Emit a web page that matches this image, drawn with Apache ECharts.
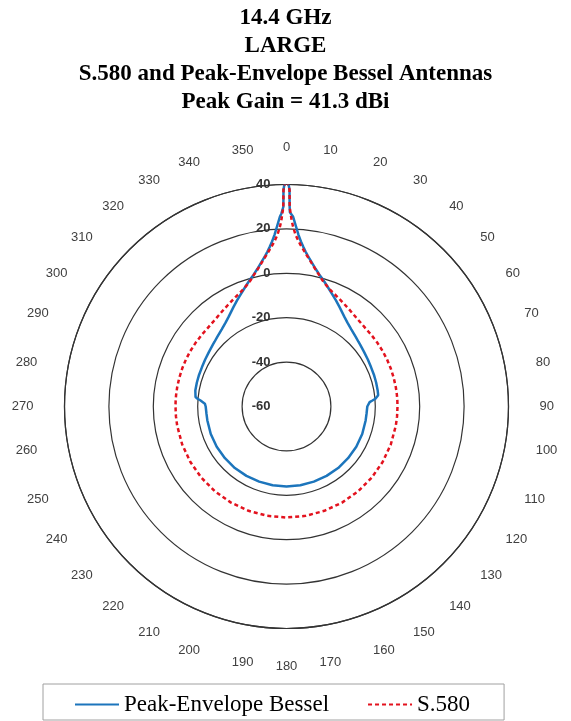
<!DOCTYPE html>
<html>
<head>
<meta charset="utf-8">
<script src="https://cdn.jsdelivr.net/npm/echarts@6/dist/echarts.min.js"></script>
<style>html,body{margin:0;padding:0;background:#fff}#c{width:571px;height:721px}</style>
</head>
<body>
<div id="c"></div>
<script>
// Off-axis angle (deg), 0..180; pattern is symmetric about 0
const angles = [0, 0.3, 0.6, 0.8, 0.9, 1, 1.5, 2, 3, 4, 5, 6, 7, 8, 10, 12, 14, 16, 18, 20, 22, 25, 28, 30, 33, 36, 40, 45, 48, 50, 55, 60, 65, 70, 75, 80, 83, 84, 85, 86, 87, 88, 90, 95, 100, 110, 120, 130, 140, 150, 160, 170, 180];
// Gain (dBi)
const besselGain = [41.3, 40.8, 39.5, 37.5, 30, 27.5, 27, 25.5, 21.3, 17.5, 14.6, 12.3, 10.3, 8.6, 5.8, 3.3, 1.2, -0.5, -2.2, -3.8, -5.3, -7.3, -9.2, -10.4, -12, -13.3, -14.6, -15.8, -16.4, -16.7, -17.3, -17.7, -18, -18.1, -18.2, -18.3, -18.4, -18.8, -19.8, -21.2, -22.5, -23.2, -23.6, -23.8, -23.8, -23.7, -23.7, -23.8, -23.8, -23.9, -24, -24, -24];
const s580Gain = [41.3, 40.8, 39.5, 37.5, 31, 29, 24.6, 21.5, 17.5, 15, 13, 11.3, 9.6, 8.2, 5.5, 3, 1, -1, -2.4, -3.6, -4.5, -5.6, -6.6, -7.2, -8, -8.7, -9.4, -9.9, -10, -10, -10, -10, -10, -10, -10, -10, -10, -10, -10, -10, -10, -10, -10, -10, -10, -10, -10, -10, -10, -10, -10, -10, -10];
const titleLines = ['14.4 GHz', 'LARGE', 'S.580 and Peak-Envelope Bessel Antennas', 'Peak Gain = 41.3 dBi'];
const seriesNames = ['Peak-Envelope Bessel', 'S.580'];
const radiusTicks = { min: -60, max: 40, step: 20 };

function fullCircle(vals) {
  const out = [];
  for (let i = 0; i < angles.length; i++) out.push([vals[i], angles[i]]);
  for (let i = angles.length - 2; i >= 0; i--) out.push([vals[i], 360 - angles[i]]);
  return out;
}

const chart = echarts.init(document.getElementById('c'), null, { renderer: 'canvas' });
chart.setOption({
  backgroundColor: '#fff',
  animation: false,
  title: {
    text: titleLines.join('\n'),
    left: 'center',
    top: -1,
    textStyle: { fontFamily: 'Liberation Serif', fontWeight: 'bold', fontSize: 23, lineHeight: 28, color: '#000' }
  },
  legend: {
    data: seriesNames,
    left: 43,
    top: 684,
    padding: [9, 34, 4, 31],
    itemGap: 38,
    itemWidth: 44,
    itemHeight: 14,
    itemStyle: { opacity: 0 },
    borderColor: '#a0a0a0',
    borderWidth: 1,
    textStyle: { fontFamily: 'Liberation Serif', fontSize: 23, color: '#000' }
  },
  polar: { center: [286.5, 406.5], radius: 222 },
  angleAxis: {
    type: 'value',
    min: 0,
    max: 360,
    interval: 10,
    startAngle: 90,
    clockwise: true,
    axisLine: { show: true, lineStyle: { color: '#333', width: 1.2 } },
    axisTick: { show: false },
    splitLine: { show: false },
    axisLabel: {
      margin: 31,
      color: '#404040',
      fontFamily: 'Liberation Sans',
      fontSize: 13,
      formatter: v => (v === 360 ? '' : String(v))
    }
  },
  radiusAxis: {
    type: 'value',
    min: radiusTicks.min,
    max: radiusTicks.max,
    interval: radiusTicks.step,
    axisLine: { show: false },
    axisTick: { show: false },
    splitLine: { show: true, lineStyle: { color: '#333', width: 1.2 } },
    axisLabel: {
      margin: 16,
      color: '#333',
      fontFamily: 'Liberation Sans',
      fontWeight: 'bold',
      fontSize: 13
    },
    z: 3
  },
  series: [
    {
      name: seriesNames[0],
      type: 'line',
      coordinateSystem: 'polar',
      symbol: 'none',
      smooth: false,
      lineStyle: { color: '#1c75bc', width: 2.5 },
      itemStyle: { color: '#1c75bc' },
      data: fullCircle(besselGain)
    },
    {
      name: seriesNames[1],
      type: 'line',
      coordinateSystem: 'polar',
      symbol: 'none',
      smooth: false,
      lineStyle: { color: '#e3121e', width: 2.5, type: [4, 3] },
      itemStyle: { color: '#e3121e' },
      data: fullCircle(s580Gain)
    }
  ]
});
</script>
</body>
</html>
